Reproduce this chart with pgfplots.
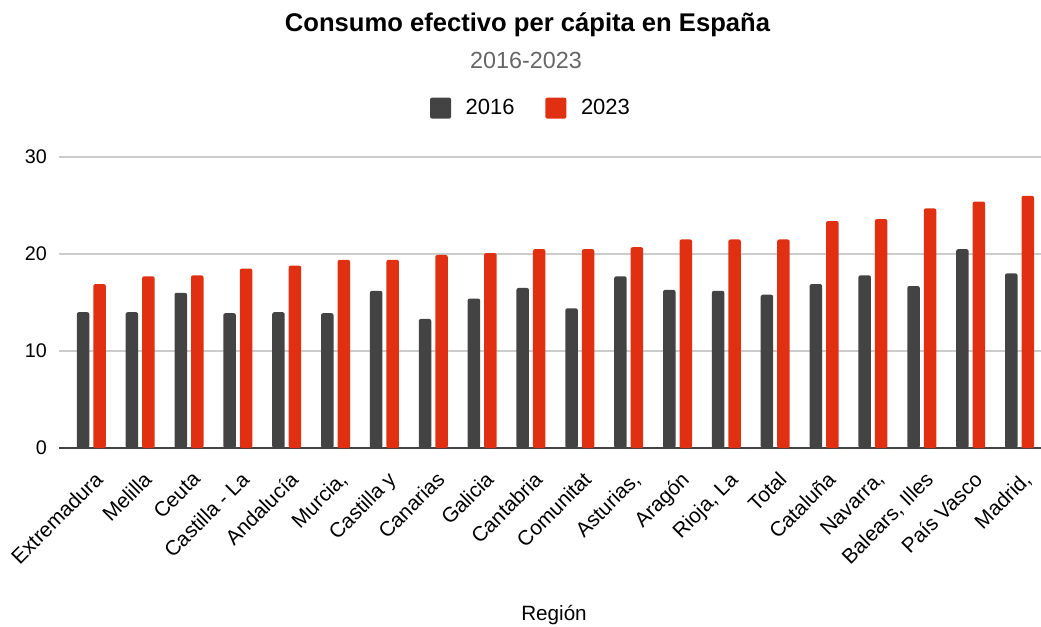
\documentclass[border=0pt]{standalone}
\usepackage{pgfplots}
\pgfplotsset{compat=1.18}
\usepackage{pgfplotstable}
\usepackage{fontspec}
\setmainfont{Liberation Sans}

\definecolor{bardark}{HTML}{434343}
\definecolor{barred}{HTML}{E02F11}
\definecolor{gridgray}{HTML}{CCCCCC}
\definecolor{subgray}{HTML}{666666}

% one pixel of the reference
\newdimen\u \u=0.75pt

\pgfplotstableread{
idx  a2016 a2023
0    14.0  16.9
1    14.0  17.7
2    16.0  17.8
3    13.9  18.5
4    14.0  18.8
5    13.9  19.4
6    16.2  19.4
7    13.3  19.9
8    15.4  20.1
9    16.5  20.5
10   14.4  20.5
11   17.7  20.7
12   16.3  21.5
13   16.2  21.5
14   15.8  21.5
15   16.9  23.4
16   17.8  23.6
17   16.7  24.7
18   20.5  25.4
19   18.0  26.0
}\consumo

\begin{document}
\begin{tikzpicture}[x=\u, y=\u]
  \useasboundingbox (0,0) rectangle (1041,626);
  \begin{axis}[
      at={(59\u,178\u)}, anchor=south west,
      scale only axis,
      width=982\u, height=291\u,
      ybar=4\u, bar width=12.5\u,
      xmin=-0.661, xmax=19.44,
      ymin=0, ymax=30,
      ytick={10,20,30},
      extra y ticks={0},
      extra y tick style={grid style={color=bardark, line width=1.6\u}},
      ymajorgrids,
      grid style={color=gridgray, line width=1.3\u},
      axis line style={draw=none},
      major tick length=0pt,
      /pgf/number format/assume math mode=true,
      yticklabel style={font=\fontsize{14.8pt}{16pt}\selectfont, anchor=east, inner sep=0pt, xshift=-12\u},
      xtick=data,
      xticklabels={Extremadura, Melilla, Ceuta, Castilla - La, Andalucía, {Murcia,}, Castilla y, Canarias, Galicia, Cantabria, Comunitat, {Asturias,}, Aragón, {Rioja, La}, Total, Cataluña, {Navarra,}, {Balears, Illes}, País Vasco, {Madrid,}},
      xticklabel style={font=\fontsize{15.6pt}{17pt}\selectfont, inner sep=0pt, xshift=2\u, yshift=-22\u, rotate=45, anchor=north east},
      legend columns=2,
      legend style={draw=none, fill=none, at={(0.481,1.168)}, anchor=center,
        font=\fontsize{16.5pt}{18pt}\selectfont,
        /tikz/every odd column/.append style={column sep=12\u},
        /tikz/every even column/.append style={column sep=28\u}},
      legend image code/.code={\fill[rounded corners=2\u] (0,-10.5\u) rectangle (21\u,10.5\u);},
      legend cell align=left,
    ]
    \addplot[draw=none, fill=bardark, rounded corners=2\u] table[x=idx, y=a2016] {\consumo};
    \addplot[draw=none, fill=barred, rounded corners=2\u] table[x=idx, y=a2023] {\consumo};
    \legend{2016, 2023}
  \end{axis}
  \node[anchor=base, font=\bfseries\fontsize{19.2pt}{21pt}\selectfont] at (527.5,594.3) {Consumo efectivo per cápita en España};
  \node[anchor=base, text=subgray, font=\fontsize{17.5pt}{19pt}\selectfont] at (526,557.7) {2016-2023};
  \node[anchor=base, font=\fontsize{15.5pt}{17pt}\selectfont] at (554,6) {Región};
\end{tikzpicture}
\end{document}
